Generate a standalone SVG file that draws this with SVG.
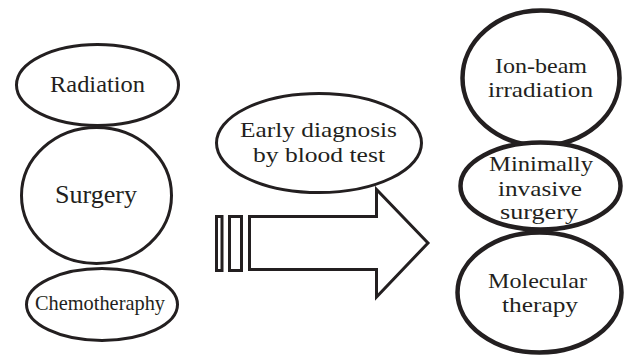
<svg xmlns="http://www.w3.org/2000/svg" width="627" height="357" viewBox="0 0 627 357">
<style>
.n{fill:#fff;stroke:#231f20;stroke-width:3}
.r{fill:#fff;stroke:#231f20;stroke-width:4.5}
.a{fill:#fff;stroke:#231f20;stroke-width:3;stroke-linejoin:miter}
text{font-family:"Liberation Serif","Times New Roman",serif;fill:#231f20;text-anchor:middle}
</style>
<rect width="627" height="357" fill="#fff"/>
<g id="connectors">
<rect class="a" x="216.5" y="216.5" width="5.5" height="54"/>
<rect class="a" x="229.5" y="216.5" width="12" height="54"/>
<path class="a" d="M249.5,216.5 H376.5 V189.5 L428,243 L376.5,297 V269.5 H249.5 Z"/>
</g>
<g id="radiation">
<ellipse class="n" cx="97.5" cy="85" rx="81" ry="40.5"/>
<text x="97.5" y="92" font-size="23" textLength="95" lengthAdjust="spacingAndGlyphs">Radiation</text>
</g>
<g id="surgery">
<ellipse class="n" cx="96.5" cy="195.5" rx="75" ry="68"/>
<text x="96" y="203" font-size="25" textLength="82" lengthAdjust="spacingAndGlyphs">Surgery</text>
</g>
<g id="chemotheraphy">
<ellipse class="n" cx="102" cy="304.5" rx="75.5" ry="36"/>
<text x="100" y="310" font-size="21" textLength="130" lengthAdjust="spacingAndGlyphs">Chemotheraphy</text>
</g>
<g id="early-diagnosis">
<ellipse class="n" cx="319" cy="143" rx="102.5" ry="49.5"/>
<text x="318.5" y="137" font-size="22" textLength="157" lengthAdjust="spacingAndGlyphs">Early diagnosis</text>
<text x="319" y="162" font-size="22" textLength="132" lengthAdjust="spacingAndGlyphs">by blood test</text>
</g>
<g id="ion-beam">
<ellipse class="r" cx="541" cy="78" rx="78.5" ry="67.5"/>
<text x="541" y="73" font-size="22" textLength="92" lengthAdjust="spacingAndGlyphs">Ion-beam</text>
<text x="540.5" y="97" font-size="22" textLength="105" lengthAdjust="spacingAndGlyphs">irradiation</text>
</g>
<g id="minimally-invasive">
<ellipse class="r" cx="540.5" cy="186" rx="80" ry="43.5"/>
<text x="541" y="171" font-size="22" textLength="104" lengthAdjust="spacingAndGlyphs">Minimally</text>
<text x="540" y="196" font-size="22" textLength="84" lengthAdjust="spacingAndGlyphs">invasive</text>
<text x="539" y="219" font-size="22" textLength="78" lengthAdjust="spacingAndGlyphs">surgery</text>
</g>
<g id="molecular">
<ellipse class="r" cx="539.5" cy="292.5" rx="82" ry="60"/>
<text x="537.5" y="288" font-size="22" textLength="99" lengthAdjust="spacingAndGlyphs">Molecular</text>
<text x="540" y="312" font-size="22" textLength="76" lengthAdjust="spacingAndGlyphs">therapy</text>
</g>
</svg>
